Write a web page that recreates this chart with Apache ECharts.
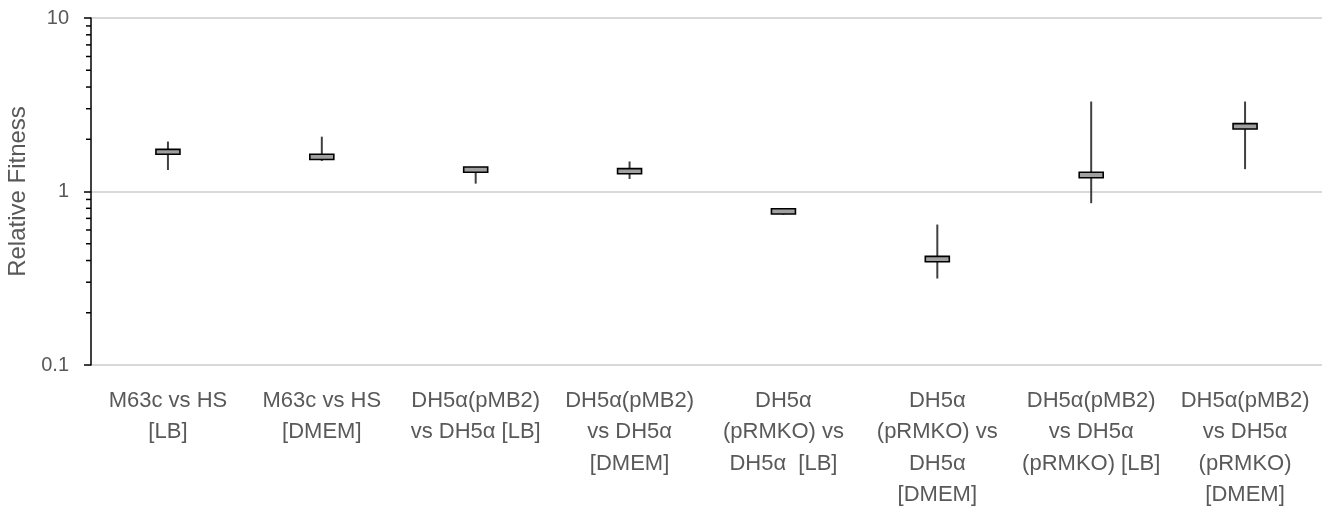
<!DOCTYPE html>
<html>
<head>
<meta charset="utf-8">
<script src="https://cdn.jsdelivr.net/npm/echarts@6/dist/echarts.min.js"></script>
<style>
  html, body { margin: 0; padding: 0; background: #fff; }
  #main { width: 1332px; height: 516px; }
</style>
</head>
<body>
<div id="main"></div>
<script>
// categories (x axis)
var categories = [
	'M63c vs HS\n[LB]',
	'M63c vs HS\n[DMEM]',
	'DH5α(pMB2)\nvs DH5α [LB]',
	'DH5α(pMB2)\nvs DH5α\n[DMEM]',
	'DH5α\n(pRMKO) vs\nDH5α  [LB]',
	'DH5α\n(pRMKO) vs\nDH5α\n[DMEM]',
	'DH5α(pMB2)\nvs DH5α\n(pRMKO) [LB]',
	'DH5α(pMB2)\nvs DH5α\n(pRMKO)\n[DMEM]'
];
// whisker ends
var highValues = [1.94, 2.07, 1.375, 1.49, 0.79, 0.645, 3.30, 3.30];
var lowValues = [1.33, 1.50, 1.11, 1.18, 0.735, 0.315, 0.856, 1.345];
// box edges
var boxTop = [1.75, 1.64, 1.385, 1.355, 0.795, 0.423, 1.29, 2.46];
var boxBottom = [1.64, 1.53, 1.29, 1.265, 0.742, 0.394, 1.20, 2.29];
// log axis minor tick values
var minorTickValues = [0.2, 0.3, 0.4, 0.5, 0.6, 0.7, 0.8, 0.9, 2, 3, 4, 5, 6, 7, 8, 9];

var textColor = '#595959';
var fontName = 'Liberation Sans';

var boxData = categories.map(function (c, i) {
	return [i, lowValues[i], highValues[i], boxTop[i], boxBottom[i]];
});
var tickData = minorTickValues.map(function (v) { return [0, v]; });

var chart = echarts.init(document.getElementById('main'));
chart.setOption({
	animation: false,
	grid: { left: 91, right: 10, top: 18, bottom: 151, outerBoundsMode: 'none' },
	xAxis: {
		type: 'category',
		data: categories,
		axisLine: { show: false },
		axisTick: { show: false },
		axisLabel: {
			interval: 0,
			color: textColor,
			fontFamily: fontName,
			fontSize: 22,
			lineHeight: 31.5,
			margin: 20
		}
	},
	yAxis: {
		type: 'log',
		logBase: 10,
		min: 0.1,
		max: 10,
		name: 'Relative Fitness',
		nameLocation: 'middle',
		nameGap: 53,
		nameTextStyle: { color: textColor, fontFamily: fontName, fontSize: 24 },
		axisLine: { show: true, lineStyle: { color: '#000', width: 1.5 } },
		axisTick: { show: true, length: 7, lineStyle: { color: '#000', width: 1.5 } },
		axisLabel: { color: textColor, fontFamily: fontName, fontSize: 20, margin: 22 },
		splitLine: { show: true, lineStyle: { color: '#d9d9d9', width: 2 } }
	},
	series: [
		{
			// minor ticks at 2..9 of each decade
			type: 'custom',
			silent: true,
			clip: false,
			z: 5,
			data: tickData,
			renderItem: function (params, api) {
				var y = api.coord([0, api.value(1)])[1];
				var x0 = params.coordSys.x;
				return {
					type: 'line',
					shape: { x1: x0 - 5, y1: y, x2: x0, y2: y },
					style: { stroke: '#000', lineWidth: 1.5 }
				};
			}
		},
		{
			type: 'custom',
			clip: false,
			data: boxData,
			renderItem: function (params, api) {
				var x = api.value(0);
				var pHigh = api.coord([x, api.value(2)]);
				var pLow = api.coord([x, api.value(1)]);
				var pTop = api.coord([x, api.value(3)]);
				var pBot = api.coord([x, api.value(4)]);
				var w = 24;
				return {
					type: 'group',
					children: [
						{
							type: 'line',
							shape: { x1: pHigh[0], y1: pHigh[1], x2: pLow[0], y2: pLow[1] },
							style: { stroke: '#404040', lineWidth: 2 }
						},
						{
							type: 'rect',
							shape: { x: pTop[0] - w / 2, y: pTop[1], width: w, height: pBot[1] - pTop[1] },
							style: { fill: '#a0a0a0', stroke: '#000', lineWidth: 1.6 }
						}
					]
				};
			}
		}
	]
});
</script>
</body>
</html>
